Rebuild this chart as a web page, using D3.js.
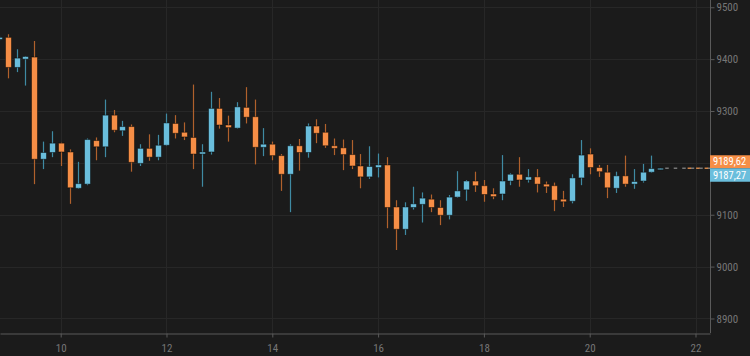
<!DOCTYPE html>
<html><head><meta charset="utf-8">
<script src="https://cdn.jsdelivr.net/npm/d3@7"></script>
<style>
html,body{margin:0;padding:0;background:#1b1b1b;}
svg{display:block;}
text{font-family:"Liberation Sans Narrow","Roboto Condensed","DejaVu Sans Condensed",sans-serif;}
</style></head><body><svg id="c" width="750" height="356"></svg>
<script>
// candle times: "day hh:mm" (4-hour candles)
const times = [
"08 20:00",
"09 00:00","09 04:00","09 08:00","09 12:00","09 16:00","09 20:00",
"10 00:00","10 04:00","10 08:00","10 12:00","10 16:00","10 20:00",
"11 00:00","11 04:00","11 08:00","11 12:00","11 16:00","11 20:00",
"12 00:00","12 04:00","12 08:00","12 12:00","12 16:00","12 20:00",
"13 00:00","13 04:00","13 08:00","13 12:00","13 16:00","13 20:00",
"14 00:00","14 04:00","14 08:00","14 12:00","14 16:00","14 20:00",
"15 00:00","15 04:00","15 08:00","15 12:00","15 16:00","15 20:00",
"16 00:00","16 04:00","16 08:00","16 12:00","16 16:00","16 20:00",
"17 00:00","17 04:00","17 08:00","17 12:00","17 16:00","17 20:00",
"18 00:00","18 04:00","18 08:00","18 12:00","18 16:00","18 20:00",
"19 00:00","19 04:00","19 08:00","19 12:00","19 16:00","19 20:00",
"20 00:00","20 04:00","20 08:00","20 12:00","20 16:00","20 20:00",
"21 00:00","21 04:00","21 08:00"];
const open  = [9438,9442,9384,9400,9404,9207,9220,9238,9221,9151,9159,9243,9231,9292,9262,9270,9199,9228,9211,9234,9276,9259,9249,9217,9221,9305,9273,9267,9307,9289,9230,9236,9214,9178,9233,9220,9271,9259,9233,9229,9216,9194,9173,9191,9196,9115,9072,9114,9120,9130,9114,9099,9134,9148,9165,9156,9140,9140,9165,9178,9167,9173,9159,9156,9130,9126,9171,9217,9191,9182,9151,9175,9159,9165,9182,9187.27];
const high  = [9445,9448,9419,9406,9435,9241,9261,9239,9226,9202,9247,9249,9322,9302,9281,9274,9236,9255,9254,9295,9292,9278,9351,9236,9337,9325,9291,9317,9346,9322,9267,9241,9217,9236,9246,9276,9284,9275,9247,9245,9244,9217,9232,9218,9211,9128,9124,9154,9143,9139,9128,9138,9184,9167,9183,9167,9151,9215,9180,9211,9188,9188,9164,9162,9146,9178,9244,9228,9196,9196,9183,9214,9188,9198,9214,9190];
const low   = [9436,9363,9375,9349,9159,9188,9211,9194,9121,9150,9157,9205,9211,9259,9252,9183,9194,9204,9205,9233,9247,9244,9188,9154,9216,9266,9241,9266,9276,9197,9213,9205,9146,9105,9185,9210,9238,9229,9215,9186,9188,9151,9169,9172,9074,9032,9061,9110,9085,9105,9080,9091,9133,9127,9144,9125,9130,9128,9157,9154,9162,9143,9142,9107,9115,9122,9157,9178,9173,9132,9142,9154,9150,9162,9181,9187];
const close = [9442,9384,9402,9405,9207,9220,9238,9221,9152,9160,9245,9231,9292,9263,9270,9201,9228,9211,9234,9277,9257,9250,9217,9221,9305,9273,9268,9308,9288,9230,9236,9214,9178,9233,9220,9271,9257,9233,9228,9216,9194,9173,9193,9196,9114,9072,9115,9121,9132,9114,9099,9134,9146,9165,9156,9139,9135,9165,9178,9167,9173,9159,9154,9128,9125,9171,9215,9191,9183,9152,9175,9159,9164,9182,9189,9189.62];
const yTicks = [8900,9000,9100,9200,9300,9400,9500];
const xTicks = [10,12,14,16,18,20,22];
const lastPrices = [9189.62, 9187.27];
const lastLabels = ["9189,62","9187,27"];

const W = 710, H = 333;
const upCol = "#6abedc", downCol = "#f68e46";
const upWick = "#3f8aa3", downWick = "#b0612c";

const day = s => +s.slice(0,2) + (+s.slice(3,5))/24 + (+s.slice(6,8))/1440;
const candles = times.map((t,i)=>({t:day(t),o:open[i],h:high[i],l:low[i],c:close[i]}));

const x = d3.scaleLinear().domain([8.8526, 22.274]).range([0, W]);
const y = d3.scaleLinear().domain([8872, 9514]).range([H, 0]);

const svg = d3.select("#c");
svg.append("rect").attr("width",750).attr("height",356).attr("fill","#1b1b1b");

// grid
const grid = svg.append("g");
grid.selectAll("line.h").data(yTicks).join("line")
  .attr("x1",0).attr("x2",W).attr("y1",d=>Math.round(y(d))+0.5).attr("y2",d=>Math.round(y(d))+0.5)
  .attr("stroke","#272727").attr("stroke-width",1);
grid.selectAll("line.v").data(xTicks).join("line")
  .attr("y1",0).attr("y2",H).attr("x1",d=>Math.round(x(d))+0.5).attr("x2",d=>Math.round(x(d))+0.5)
  .attr("stroke","#272727").attr("stroke-width",1);

// candles
const cw = 6;
const g = svg.append("g");
const cg = g.selectAll("g.c").data(candles).join("g");
cg.append("line")
  .attr("x1",d=>Math.round(x(d.t))+0.5).attr("x2",d=>Math.round(x(d.t))+0.5)
  .attr("y1",d=>y(d.h)).attr("y2",d=>y(d.l))
  .attr("stroke",d=>d.c>=d.o?upWick:downWick).attr("stroke-width",1.2);
cg.append("rect")
  .attr("x",d=>Math.round(x(d.t))+0.5-cw/2)
  .attr("width",cw)
  .attr("y",d=>y(Math.max(d.o,d.c)))
  .attr("height",d=>Math.max(1.5, Math.abs(y(d.o)-y(d.c))))
  .attr("fill",d=>d.c>=d.o?upCol:downCol)
  .attr("stroke","rgba(0,0,0,0.45)").attr("stroke-width",1);

// last price dashed lines
const last = candles[candles.length-1];
const lx0 = x(last.t)+5;
const lmid = (lx0 + W)/2;
const ly = y(lastPrices[0]);
svg.append("line").attr("x1",lx0).attr("x2",W).attr("y1",ly).attr("y2",ly)
  .attr("stroke","#777").attr("stroke-width",1.3).attr("stroke-dasharray","3.5,5");
svg.append("line").attr("x1",lmid).attr("x2",W).attr("y1",ly).attr("y2",ly)
  .attr("stroke","#d08448").attr("stroke-width",1.3).attr("stroke-dasharray","3.5,5");

// axes
const ya = svg.append("g").attr("transform",`translate(${W+0.5},0)`)
  .call(d3.axisRight(y).tickValues(yTicks).tickSize(4).tickSizeOuter(0).tickPadding(2).tickFormat(d3.format("d")));
const xa = svg.append("g").attr("transform",`translate(0,${H+0.5})`)
  .call(d3.axisBottom(x).tickValues(xTicks).tickSize(4).tickSizeOuter(0).tickPadding(7).tickFormat(d3.format("d")));
[ya,xa].forEach(a=>{
  a.select(".domain").attr("stroke","#5a5a5a");
  a.selectAll(".tick line").attr("stroke","#5a5a5a");
  a.selectAll("text").attr("fill","#767676").attr("font-size",11)
   .style("font-family",'"Liberation Sans Narrow","Roboto Condensed","DejaVu Sans Condensed",sans-serif');
});
ya.select(".domain").attr("d",`M0,0V${H}`);
// tick labels hidden behind the price label boxes
ya.selectAll(".tick").filter(d=>Math.abs(y(d)-ly)<16).select("text").remove();

// price labels
const lblCols = [downCol, upCol];
const boxes = [
  {top: ly-13, h:13, ty: ly-6.7},
  {top: ly, h:13.5, ty: ly+7}
];
boxes.forEach((b,i)=>{
  svg.append("rect").attr("x",W).attr("y",b.top).attr("width",750-W).attr("height",b.h).attr("fill",lblCols[i]);
  svg.append("text").attr("x",W+3).attr("y",b.ty).attr("dy","0.35em")
    .attr("fill","#fff").attr("font-size",10.5).text(lastLabels[i]);
});
</script></body></html>
